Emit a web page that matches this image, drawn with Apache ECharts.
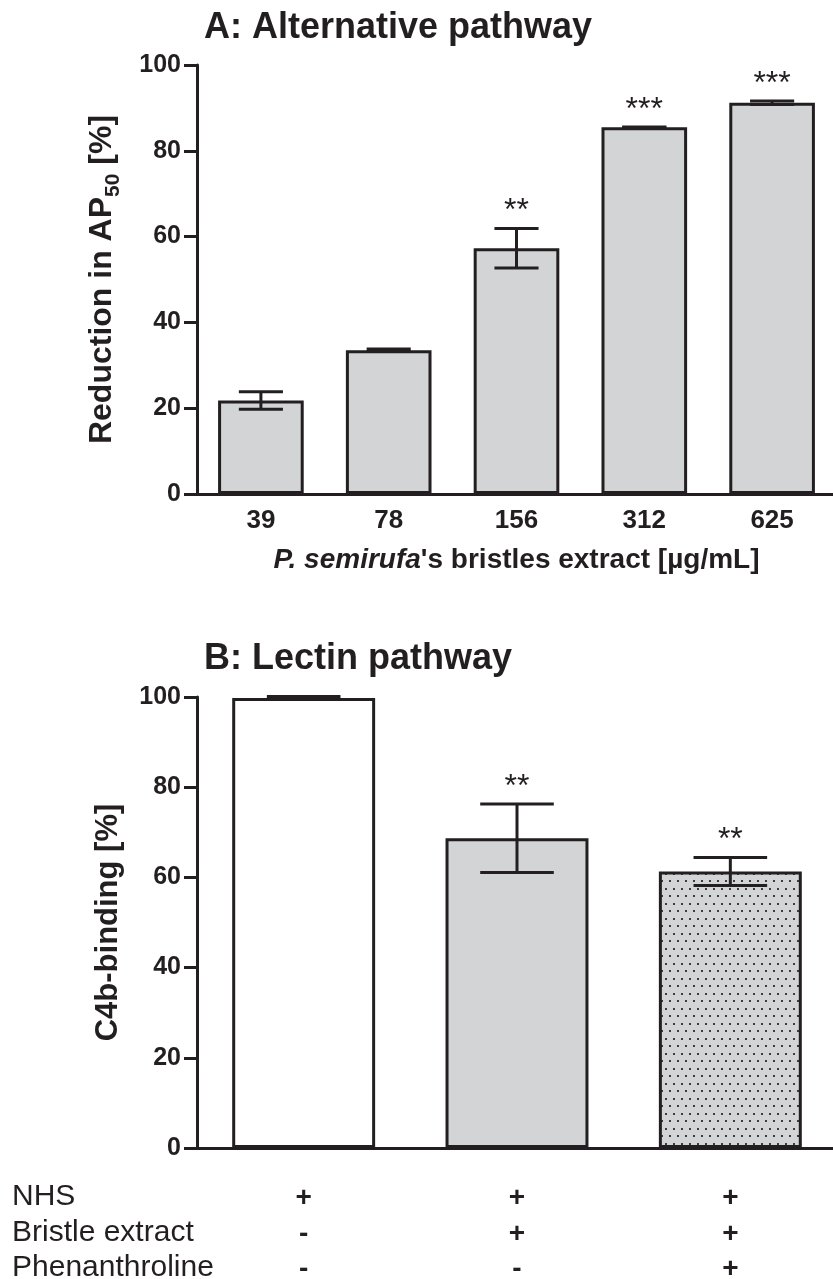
<!DOCTYPE html>
<html><head><meta charset="utf-8">
<script src="https://cdn.jsdelivr.net/npm/echarts@6/dist/echarts.min.js"></script>
<style>html,body{margin:0;padding:0;background:#fff}#c{width:833px;height:1279px}</style>
</head><body><div id="c"></div>
<script>
// ---- data ----
const catsA = ['39', '78', '156', '312', '625'];
const meanA = [21.8, 33.5, 57.3, 85.5, 91.2];
const semA = [2.05, 0.3, 4.6, 0.05, 0.4];
const starsA = ['', '', '**', '***', '***'];

const catsB = ['NHS', 'NHS + extract', 'NHS + extract + phenanthroline'];
const meanB = [99.8, 68.7, 61.3];
const semB = [0.3, 7.6, 3.1];
const starsB = ['', '**', '**'];

const rowLabels = ['NHS', 'Bristle extract', 'Phenanthroline'];
const signNHS = ['+', '+', '+'];
const signExtract = ['-', '+', '+'];
const signPhen = ['-', '-', '+'];

// ---- style ----
const INK = '#231f20';
const GRAY = '#d3d4d6';
const FONT = '"Liberation Sans", Arial, Helvetica, sans-serif';

const pc = document.createElement('canvas');
pc.width = 8; pc.height = 15;
const g = pc.getContext('2d');
g.fillStyle = GRAY; g.fillRect(0, 0, 8, 15);
g.fillStyle = '#3c3c3c';
g.fillRect(1, 3, 2, 2);
g.fillRect(5, 10, 2, 2);
const dotPattern = { image: pc, repeat: 'repeat' };
const fillB = ['#ffffff', GRAY, dotPattern];

const chart = echarts.init(document.getElementById('c'), null, { renderer: 'canvas' });

function errRender(means, sems, stars) {
  return function (params, api) {
    const i = params.dataIndex;
    const m = means[i], e = sems[i];
    const top = api.coord([i, m + e]);
    const bot = api.coord([i, m - e]);
    const band = api.size([1, 0])[0];
    const hw = band * 0.345 / 2;
    const ls = { stroke: INK, lineWidth: 3 };
    const children = [
      { type: 'line', shape: { x1: top[0], y1: top[1], x2: bot[0], y2: bot[1] }, style: ls },
      { type: 'line', shape: { x1: top[0] - hw, y1: top[1], x2: top[0] + hw, y2: top[1] }, style: ls },
      { type: 'line', shape: { x1: bot[0] - hw, y1: bot[1], x2: bot[0] + hw, y2: bot[1] }, style: ls }
    ];
    if (stars[i]) {
      children.push({
        type: 'text', x: top[0], y: top[1] - 17,
        style: { text: stars[i], align: 'center', verticalAlign: 'middle',
          fontSize: 32, fontFamily: FONT, fill: INK }
      });
    }
    return { type: 'group', children };
  };
}

const yAxisCommon = {
  type: 'value', min: 0, max: 100, interval: 20,
  axisLine: { show: true, lineStyle: { color: INK, width: 3 } },
  axisTick: { show: true, length: 13, lineStyle: { color: INK, width: 3 } },
  axisLabel: { fontSize: 25, fontWeight: 'bold', color: INK, fontFamily: FONT, margin: 16 },
  splitLine: { show: false },
  nameLocation: 'middle', nameGap: 73
};

const option = {
  backgroundColor: '#ffffff',
  animation: false,
  title: [
    { text: 'A: Alternative pathway', left: 199, top: 5,
      textStyle: { fontSize: 36, fontWeight: 'bold', color: INK, fontFamily: FONT } },
    { text: 'B: Lectin pathway', left: 199, top: 636,
      textStyle: { fontSize: 36, fontWeight: 'bold', color: INK, fontFamily: FONT } }
  ],
  grid: [
    { left: 197, top: 65, width: 639, height: 429, containLabel: false, outerBoundsMode: 'none' },
    { left: 197, top: 697, width: 640, height: 451, containLabel: false, outerBoundsMode: 'none' }
  ],
  xAxis: [
    { type: 'category', gridIndex: 0, data: catsA,
      axisLine: { lineStyle: { color: INK, width: 3 } },
      axisTick: { alignWithLabel: true, length: 12, lineStyle: { color: INK, width: 3 } },
      axisLabel: { fontSize: 26, fontWeight: 'bold', color: INK, fontFamily: FONT, margin: 14, interval: 0 },
      name: '{i|P. semirufa}{n|\'s bristles extract [µg/mL]}',
      nameLocation: 'middle', nameGap: 52,
      nameTextStyle: {
        rich: {
          i: { fontSize: 28, fontWeight: 'bold', fontStyle: 'italic', color: INK, fontFamily: FONT },
          n: { fontSize: 28, fontWeight: 'bold', color: INK, fontFamily: FONT }
        }
      }
    },
    { type: 'category', gridIndex: 1, data: catsB,
      axisLine: { lineStyle: { color: INK, width: 3 } },
      axisTick: { alignWithLabel: true, length: 12, lineStyle: { color: INK, width: 3 } },
      axisLabel: {
        interval: 0, margin: 33, fontSize: 28, fontWeight: 'bold', color: INK, fontFamily: FONT,
        lineHeight: 35.5,
        formatter: function (v, idx) { return [signNHS[idx], signExtract[idx], signPhen[idx]].join('\n'); }
      }
    }
  ],
  yAxis: [
    Object.assign({}, yAxisCommon, {
      gridIndex: 0,
      name: '{a|Reduction in AP}{s|50}{a| [%]}',
      nameTextStyle: {
        rich: {
          a: { fontSize: 32, fontWeight: 'bold', color: INK, fontFamily: FONT, lineHeight: 44, verticalAlign: 'middle' },
          s: { fontSize: 21, fontWeight: 'bold', color: INK, fontFamily: FONT, lineHeight: 21, verticalAlign: 'bottom' }
        }
      }
    }),
    Object.assign({}, yAxisCommon, {
      gridIndex: 1,
      name: 'C4b-binding [%]',
      nameTextStyle: { fontSize: 31, fontWeight: 'bold', color: INK, fontFamily: FONT }
    })
  ],
  graphic: rowLabels.map(function (t, k) {
    return { type: 'text', left: 12, top: 1196 + k * 35.5 - 14,
      style: { text: t, fontSize: 30, fontFamily: FONT, fill: INK } };
  }),
  series: [
    { type: 'bar', xAxisIndex: 0, yAxisIndex: 0, data: meanA, barWidth: '67%',
      itemStyle: { color: GRAY, borderColor: INK, borderWidth: 3 }, z: 2 },
    { type: 'custom', xAxisIndex: 0, yAxisIndex: 0, z: 5,
      data: meanA.map(function (m, i) { return [i, m]; }),
      encode: { x: 0, y: 1 },
      renderItem: errRender(meanA, semA, starsA) },
    { type: 'bar', xAxisIndex: 1, yAxisIndex: 1, barWidth: '67%', z: 2,
      data: meanB.map(function (m, i) {
        return { value: m, itemStyle: { color: fillB[i], borderColor: INK, borderWidth: 3 } };
      }) },
    { type: 'custom', xAxisIndex: 1, yAxisIndex: 1, z: 5,
      data: meanB.map(function (m, i) { return [i, m]; }),
      encode: { x: 0, y: 1 },
      renderItem: errRender(meanB, semB, starsB) }
  ]
};
chart.setOption(option);
</script>
</body></html>
